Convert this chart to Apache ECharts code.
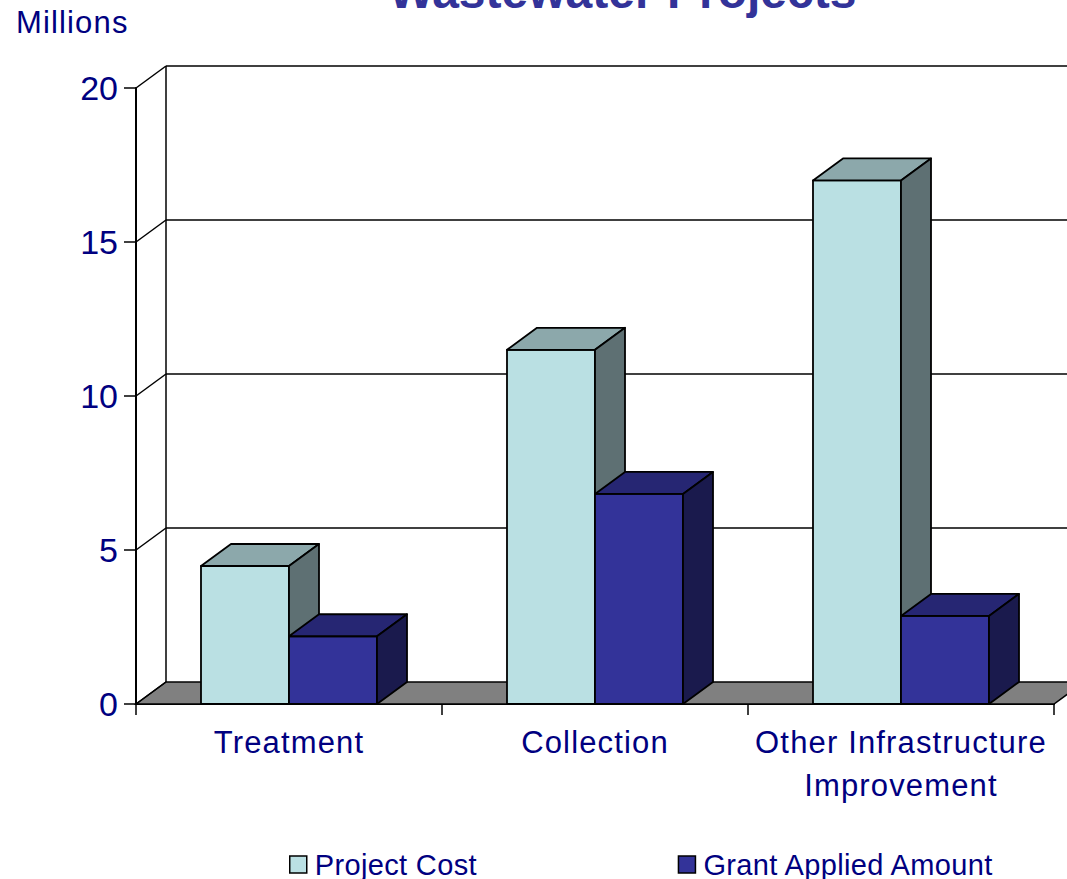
<!DOCTYPE html>
<html><head><meta charset="utf-8">
<style>html,body{margin:0;padding:0;background:#fff}#c{width:1067px;height:879px}
#c text[style*="31px"]{letter-spacing:1.15px}
#c text[style*="29px"]{letter-spacing:.35px}
</style>
<script src="https://cdn.jsdelivr.net/npm/echarts@6/dist/echarts.min.js"></script>
</head><body><div id="c"></div>
<script>
const categories = ["Treatment", "Collection", "Other Infrastructure\nImprovement"];
const projectCost = [4.48, 11.5, 17.0];
const grantApplied = [2.2, 6.82, 2.86];
const yTicks = [0, 5, 10, 15, 20];
const seriesNames = ["Project Cost", "Grant Applied Amount"];

const DX = 30, DY = -22, NAVY = "#000080", TITLE = "#333399";
const FONT = "Liberation Sans";

function poly(points, fill) {
  return { type: "polygon", shape: { points }, style: { fill, stroke: "#000", lineWidth: 1.8, lineJoin: "round" } };
}
function bar(colors, side) {
  return function (params, api) {
    const base = api.coord([api.value(0), 0]);
    const top = api.coord([api.value(0), api.value(1)]);
    const band = api.size([1, 0])[0];
    const w = band * 0.2876;
    const x0 = base[0] + (side < 0 ? -w : 0), x1 = x0 + w, y0 = base[1], y1 = top[1];
    return { type: "group", children: [
      poly([[x0, y1], [x1, y1], [x1, y0], [x0, y0]], colors[0]),
      poly([[x0, y1], [x0 + DX, y1 + DY], [x1 + DX, y1 + DY], [x1, y1]], colors[1]),
      poly([[x1, y1], [x1 + DX, y1 + DY], [x1 + DX, y0 + DY], [x1, y0]], colors[2])
    ] };
  };
}
function wall(params, api) {
  const v = api.value(1), c = params.coordSys;
  const y = api.coord([0, v])[1], L = c.x, R = c.x + c.width;
  const line = { stroke: "#000", lineWidth: 1.5 };
  const kids = [];
  if (v === 0) {
    kids.push({ type: "polygon", shape: { points: [[L, y], [L + DX, y + DY], [R + DX, y + DY], [R, y]] },
      style: { fill: "#808080", stroke: "#000", lineWidth: 1.5 } });
    const t = api.coord([0, yTicks[yTicks.length - 1]])[1];
    kids.push({ type: "line", shape: { x1: L + DX, y1: y + DY, x2: L + DX, y2: t + DY }, style: line });
  } else {
    kids.push({ type: "line", shape: { x1: L + DX, y1: y + DY, x2: R + DX, y2: y + DY }, style: line });
  }
  kids.push({ type: "line", shape: { x1: L, y1: y, x2: L + DX, y2: y + DY }, style: line });
  return { type: "group", children: kids };
}

const chart = echarts.init(document.getElementById("c"), null, { renderer: "svg" });
chart.setOption({
  animation: false,
  backgroundColor: "#fff",
  textStyle: { fontFamily: FONT },
  title: [
    { text: "Wastewater Projects", left: 617.5, textAlign: "center", top: -38,
      textStyle: { color: TITLE, fontSize: 48, fontWeight: "bold", fontFamily: FONT } },
    { text: "Millions", left: 11, top: 2, textStyle: { color: NAVY, fontSize: 31, fontWeight: "normal", fontFamily: FONT } }
  ],
  legend: {
    left: 284, top: 845, itemWidth: 17, itemHeight: 17, itemGap: 205,
    data: [
      { name: seriesNames[0], icon: "rect", itemStyle: { color: "#BAE0E3", borderColor: "#000", borderWidth: 1.5 } },
      { name: seriesNames[1], icon: "rect", itemStyle: { color: "#333399", borderColor: "#000", borderWidth: 1.5 } }
    ],
    textStyle: { color: NAVY, fontSize: 29, fontFamily: FONT, padding: [0, 0, 0, 3] }
  },
  grid: { left: 136, right: 13, top: 88, bottom: 175, containLabel: false },
  xAxis: {
    type: "category", data: categories,
    axisLine: { show: true, lineStyle: { color: "#000", width: 2 } },
    axisTick: { show: true, length: 11, lineStyle: { color: "#000", width: 1.5 } },
    axisLabel: { color: NAVY, fontSize: 31, lineHeight: 43, margin: 17, interval: 0, fontFamily: FONT },
    splitLine: { show: false }
  },
  yAxis: {
    type: "value", min: 0, max: 20, interval: 5,
    axisLine: { show: true, lineStyle: { color: "#000", width: 2 } },
    axisTick: { show: true, length: 12, lineStyle: { color: "#000", width: 1.5 } },
    axisLabel: { color: NAVY, fontSize: 34, margin: 18, fontFamily: FONT },
    splitLine: { show: false }
  },
  series: [
    { type: "custom", name: "walls", silent: true, clip: false, z: 1, renderItem: wall,
      encode: { x: 0, y: 1 }, data: yTicks.map(v => [0, v]) },
    { type: "custom", name: seriesNames[0], clip: false, z: 2, itemStyle: { color: "#BAE0E3" },
      renderItem: bar(["#BAE0E3", "#8CA8AB", "#5E7073"], -1), encode: { x: 0, y: 1 },
      data: projectCost.map((v, i) => [i, v]) },
    { type: "custom", name: seriesNames[1], clip: false, z: 3, itemStyle: { color: "#333399" },
      renderItem: bar(["#333399", "#262673", "#1A1A4D"], 1), encode: { x: 0, y: 1 },
      data: grantApplied.map((v, i) => [i, v]) }
  ]
});
</script></body></html>
